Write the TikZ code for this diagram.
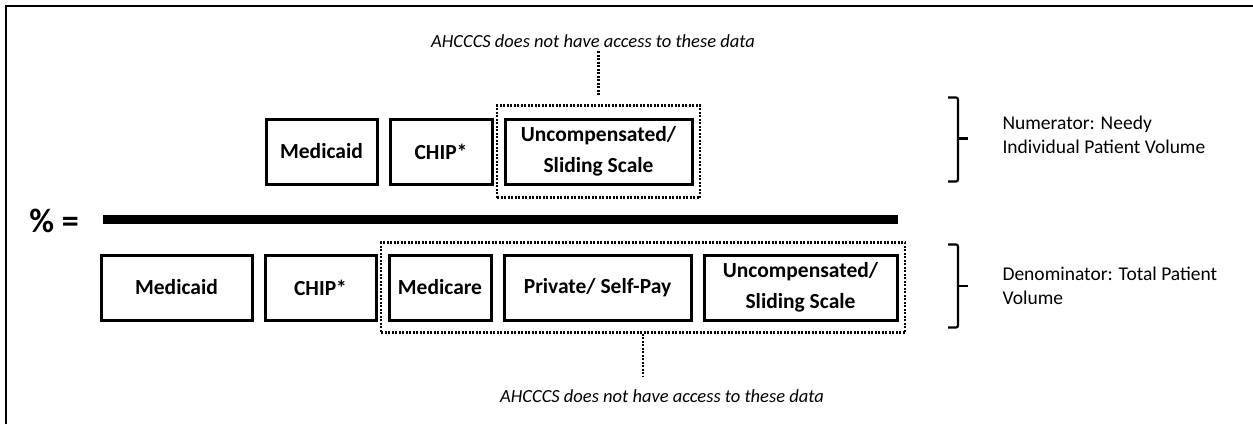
\documentclass[tikz,border=0pt]{standalone}
\usepackage{fontspec}
\setmainfont{Carlito}
\usetikzlibrary{positioning,fit}

\tikzset{
  payer/.style={draw, line width=3pt, inner sep=0pt, outer sep=0pt, minimum height=65pt,
    align=center, font=\bfseries\fontsize{21.5}{31}\selectfont},
  datagap/.style={draw, line width=2.6pt, dash pattern=on 2pt off 1.5pt, inner sep=0pt},
  nodata/.style={font=\itshape\fontsize{18.5}{22}\selectfont},
  side/.style={anchor=west, align=left, font=\fontsize{19.5}{24}\selectfont},
  curly/.style={line width=2.2pt, rounded corners=2pt},
}

\begin{document}
\begin{tikzpicture}[x=1pt, y=-1pt]
    \useasboundingbox (0,0) rectangle (1253,424);
    \draw[line width=1.8pt] (6,424) -- (6,6) -- (1253,6);
    % numerator
    \node[payer, minimum width=111pt] (numMedicaid) at (321.5,151.5) {Medicaid};
    \node[payer, minimum width=102pt, right=13pt of numMedicaid] (numChip) {CHIP*};
    \node[payer, minimum width=187pt, right=13pt of numChip] (numUncomp) {Uncompensated/\\Sliding Scale};
    \node[datagap, fit=(numUncomp), inner xsep=8pt, inner ysep=13.5pt] (numData) {};
    \node[nodata] (topNote) at (593,41) {AHCCCS does not have access to these data};
    \draw[datagap, shorten >=9pt] (topNote.south -| numData.north) -- (numData.north);
    % fraction bar
    \coordinate (barL) at (103,219.5);
    \coordinate (barR) at (898,219.5);
    \draw[line width=9pt] (barL) -- (barR);
    \node[font=\bfseries\fontsize{34}{34}\selectfont] (pct) at (54,221) {\% =};
    % denominator
    \node[payer, minimum width=151pt] (denMedicaid) at (176.5,287.5) {Medicaid};
    \node[payer, minimum width=111pt, right=13pt of denMedicaid] (denChip) {CHIP*};
    \node[payer, minimum width=102pt, right=13pt of denChip] (denMedicare) {Medicare};
    \node[payer, minimum width=187pt, right=13pt of denMedicare] (denPrivate) {Private/ Self-Pay};
    \node[payer, minimum width=193pt, right=13pt of denPrivate] (denUncomp) {Uncompensated/\\Sliding Scale};
    \node[datagap, fit=(denMedicare)(denUncomp), inner xsep=8pt, inner ysep=12.5pt] (denData) {};
    \node[nodata] (botNote) at (662,396) {AHCCCS does not have access to these data};
    \draw[datagap, shorten >=9pt] (denData.south) -- (denData.south |- botNote.north);
    % braces
    \draw[curly] (948,97.5) -- (958,97.5) -- (958,181.5) -- (948,181.5);
    \draw[curly] (958,138.5) -- (968,138.5);
    \draw[curly] (948,244.5) -- (958,244.5) -- (958,327.5) -- (948,327.5);
    \draw[curly] (958,286) -- (968,286);
    \node[side] (numNote) at (999,135) {Numerator: Needy\\Individual Patient Volume};
    \node[side] (denNote) at (999,286) {Denominator: Total Patient\\Volume};
\end{tikzpicture}
\end{document}
